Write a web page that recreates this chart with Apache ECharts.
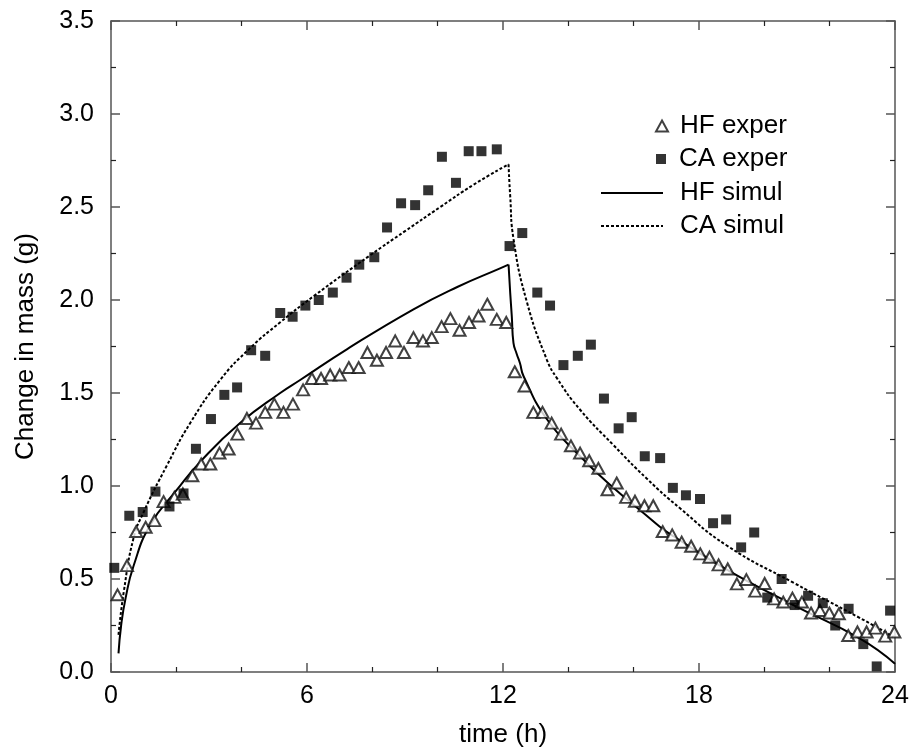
<!DOCTYPE html>
<html>
<head>
<meta charset="utf-8">
<script src="https://cdn.jsdelivr.net/npm/echarts@6/dist/echarts.min.js"></script>
<style>
html,body{margin:0;padding:0;background:#fff;}
#chart{width:914px;height:753px;}
</style>
</head>
<body>
<div id="chart"></div>
<script>
// ---- data ----
var hfExperT = [0.20,0.49,0.77,1.06,1.33,1.61,1.94,2.20,2.49,2.76,3.04,3.32,3.60,3.87,4.16,4.44,4.72,5.00,5.28,5.57,
  5.88,6.15,6.43,6.71,7.00,7.28,7.58,7.85,8.14,8.42,8.70,8.97,9.26,9.55,9.82,10.12,10.39,10.67,10.96,11.25,11.52,11.81,
  12.10,12.36,12.66,12.93,13.21,13.49,13.78,14.08,14.36,14.64,14.92,15.20,15.48,15.77,16.04,16.33,16.60,16.89,
  17.18,17.47,17.76,18.04,18.32,18.60,18.88,19.16,19.45,19.72,20.01,20.30,20.58,20.86,21.15,21.43,21.70,21.99,22.28,22.57,22.85,23.13,23.40,23.70,23.98];
var hfExperV = [0.415,0.572,0.755,0.778,0.814,0.916,0.939,0.957,1.055,1.118,1.118,1.177,1.199,1.279,1.363,1.338,1.396,1.440,1.396,1.440,
  1.517,1.578,1.578,1.597,1.597,1.637,1.637,1.718,1.676,1.718,1.780,1.718,1.798,1.780,1.798,1.857,1.900,1.837,1.879,1.914,1.977,1.896,
  1.879,1.614,1.538,1.396,1.396,1.338,1.279,1.216,1.177,1.136,1.095,0.980,1.016,0.939,0.918,0.894,0.894,0.755,
  0.737,0.698,0.676,0.635,0.617,0.576,0.554,0.474,0.497,0.435,0.476,0.393,0.376,0.397,0.376,0.317,0.331,0.317,0.313,0.196,0.215,0.215,0.236,0.193,0.215];

var caExperT = [0.10,0.56,0.97,1.36,1.79,2.22,2.60,3.06,3.47,3.86,4.29,4.72,5.18,5.56,5.95,6.36,6.79,7.21,7.60,8.06,
  8.45,8.88,9.31,9.71,10.13,10.56,10.95,11.34,11.81,12.20,12.59,13.05,13.44,13.85,14.29,14.69,15.09,15.54,15.94,16.34,
  16.81,17.20,17.60,18.03,18.43,18.83,19.29,19.69,20.09,20.53,20.93,21.34,21.79,22.17,22.58,23.03,23.44,23.85];
var caExperV = [0.56,0.84,0.86,0.97,0.89,0.96,1.20,1.36,1.49,1.53,1.73,1.70,1.93,1.91,1.97,2.00,2.04,2.12,2.19,2.23,
  2.39,2.52,2.51,2.59,2.77,2.63,2.80,2.80,2.81,2.29,2.36,2.04,1.97,1.65,1.70,1.76,1.47,1.31,1.37,1.16,
  1.15,0.99,0.95,0.93,0.80,0.82,0.67,0.75,0.40,0.50,0.36,0.41,0.37,0.25,0.34,0.15,0.03,0.33];

// simulation curves (uptake phase and release phase)
var hfSimRiseT = [0.23,0.31,0.45,0.69,1.20,2.02,2.73,3.96,5.18,5.79,7.22,9.26,10.60,11.91,12.17];
var hfSimRiseV = [0.10,0.25,0.40,0.57,0.79,0.98,1.13,1.34,1.50,1.57,1.735,1.95,2.07,2.17,2.19];
var hfSimFallT = [12.17,12.22,12.27,12.32,12.42,12.52,12.63,13.34,14.36,15.38,16.40,16.81,17.22,18.85,20.89,22.93,24.00];
var hfSimFallV = [2.19,2.04,1.91,1.77,1.71,1.66,1.59,1.36,1.16,0.99,0.84,0.78,0.73,0.55,0.36,0.18,0.045];

var caSimRiseT = [0.23,0.39,0.69,1.00,1.71,2.43,3.34,4.25,5.18,6.20,7.93,9.00,10.08,11.10,12.17];
var caSimRiseV = [0.20,0.43,0.72,0.86,1.11,1.34,1.57,1.74,1.88,2.02,2.24,2.37,2.50,2.62,2.73];
var caSimFallT = [12.17,12.22,12.32,12.73,13.34,13.65,14.36,15.38,16.40,17.42,18.85,20.89,22.93,23.95];
var caSimFallV = [2.73,2.56,2.33,1.99,1.68,1.58,1.41,1.22,1.04,0.88,0.68,0.48,0.29,0.19];

var xTicks = {min: 0, max: 24, step: 6};
var yTicks = {min: 0, max: 3.5, step: 0.5};

function pairs(t, v) { return t.map(function (x, i) { return [x, v[i]]; }); }

var FONT = 'Liberation Sans, Arial, Helvetica, sans-serif';
var AXC = '#555';

function xAx(pos, show) {
  return {
    type: 'value', position: pos, min: xTicks.min, max: xTicks.max, interval: xTicks.step,
    axisLine: {show: true, onZero: false, lineStyle: {color: AXC, width: 1.5}},
    axisTick: {show: true, inside: true, length: 9, lineStyle: {color: AXC, width: 1.5}},
    minorTick: {show: true, splitNumber: 3, length: 5, lineStyle: {color: '#222', width: 1.2}},
    splitLine: {show: false}, minorSplitLine: {show: false},
    axisLabel: {show: show, fontSize: 25, color: '#000', fontFamily: FONT, margin: 12},
    name: show ? 'time (h)' : '', nameLocation: 'middle', nameGap: 50,
    nameTextStyle: {fontSize: 26, color: '#000', fontFamily: FONT}
  };
}
function yAx(pos, show) {
  return {
    type: 'value', position: pos, min: yTicks.min, max: yTicks.max, interval: yTicks.step,
    axisLine: {show: true, onZero: false, lineStyle: {color: AXC, width: 1.5}},
    axisTick: {show: true, inside: true, length: 9, lineStyle: {color: AXC, width: 1.5}},
    minorTick: {show: true, splitNumber: 2, length: 5, lineStyle: {color: '#222', width: 1.2}},
    splitLine: {show: false}, minorSplitLine: {show: false},
    axisLabel: {show: show, fontSize: 25, color: '#000', fontFamily: FONT, margin: 17,
      formatter: function (v) { return v.toFixed(1); }},
    name: show ? 'Change in mass (g)' : '', nameLocation: 'middle', nameGap: 72, nameRotate: 90,
    nameTextStyle: {fontSize: 26, color: '#000', fontFamily: FONT}
  };
}

function legendRow(name, top, left, w, h, pad, hideSymbol) {
  var lg = {
    data: [name], orient: 'vertical', left: left, top: top, itemWidth: w, itemHeight: h,
    selectedMode: false, padding: 0,
    textStyle: {fontSize: 26, color: '#000', fontFamily: FONT, padding: [0, 0, 0, pad]}
  };
  if (hideSymbol) { lg.itemStyle = {opacity: 0, borderWidth: 0}; }
  return lg;
}

var option = {
  animation: false,
  backgroundColor: '#fff',
  grid: {left: 111, right: 19, top: 21, bottom: 80, containLabel: false},
  xAxis: [xAx('bottom', true), xAx('top', false)],
  yAxis: [yAx('left', true), yAx('right', false)],
  legend: [
    legendRow('HF exper', 113, 655, 12, 11, 7, false),
    legendRow('CA exper', 146, 656, 10, 10, 8, false),
    legendRow('HF simul', 180, 600, 62, 14, 12, true),
    legendRow('CA simul', 213, 600, 62, 14, 12, true)
  ],
  series: [
    {name: 'HF exper', type: 'scatter', symbol: 'emptyTriangle', symbolSize: [12, 11],
      itemStyle: {color: '#111', borderWidth: 1.2}, data: pairs(hfExperT, hfExperV), z: 3},
    {name: 'CA exper', type: 'scatter', symbol: 'rect', symbolSize: 10,
      itemStyle: {color: '#000'}, data: pairs(caExperT, caExperV), z: 4},
    {name: 'HF simul', type: 'line', symbol: 'none', smooth: 0.5,
      lineStyle: {color: '#000', width: 2}, itemStyle: {color: '#000'}, data: pairs(hfSimRiseT, hfSimRiseV)},
    {name: 'HF simul', type: 'line', symbol: 'none', smooth: 0.5,
      lineStyle: {color: '#000', width: 2}, itemStyle: {color: '#000'}, data: pairs(hfSimFallT, hfSimFallV)},
    {name: 'CA simul', type: 'line', symbol: 'none', smooth: 0.5,
      lineStyle: {color: '#000', width: 2, type: [3, 2]}, itemStyle: {color: '#000'}, data: pairs(caSimRiseT, caSimRiseV)},
    {name: 'CA simul', type: 'line', symbol: 'none', smooth: 0.5,
      lineStyle: {color: '#000', width: 2, type: [3, 2]}, itemStyle: {color: '#000'}, data: pairs(caSimFallT, caSimFallV)}
  ]
};

var chart = echarts.init(document.getElementById('chart'), null, {renderer: 'canvas'});
chart.setOption(option);
</script>
</body>
</html>
